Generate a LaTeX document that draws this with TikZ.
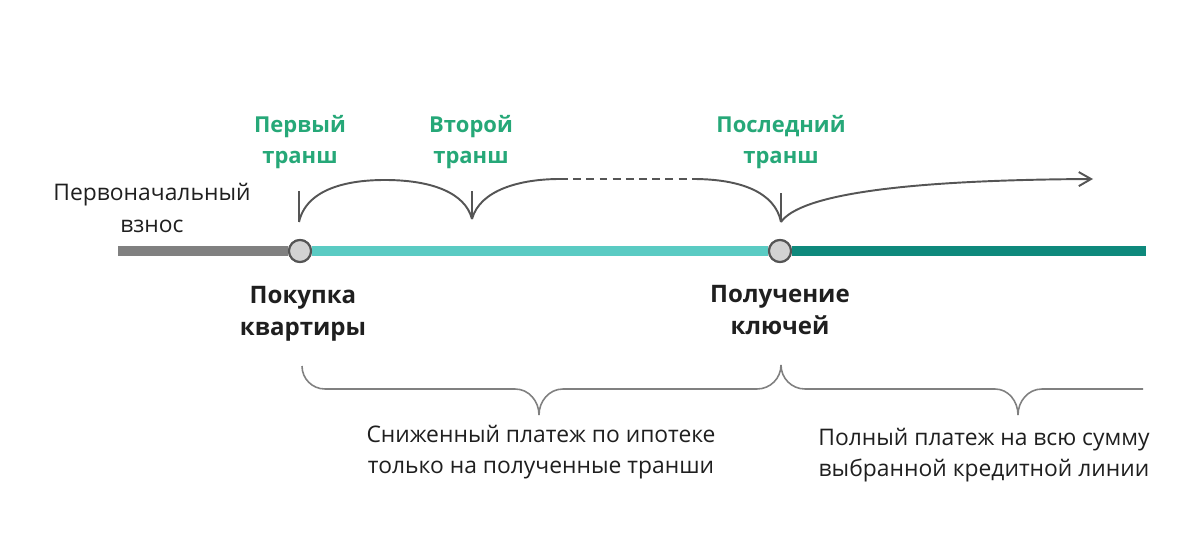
\documentclass[tikz,border=0pt]{standalone}
\usepackage{fontspec}
\setmainfont{Open Sans}
\usetikzlibrary{arrows.meta}
\definecolor{PayGray}{RGB}{128,128,128}
\definecolor{LightTeal}{RGB}{90,203,195}
\definecolor{DarkTeal}{RGB}{14,137,124}
\definecolor{TrancheGreen}{RGB}{38,168,120}
\definecolor{DotGray}{RGB}{210,210,210}
\definecolor{InkGray}{RGB}{85,85,85}
\tikzset{
  dot/.style={circle,draw=InkGray,fill=DotGray,line width=1.2pt,minimum size=22*0.02cm,inner sep=0pt},
  bar/.style={line width=10*0.02cm},
  txt/.style={font=\fontsize{13}{18}\selectfont,text=black!88,align=center,inner sep=0pt},
  bold/.style={txt,font=\fontsize{13.7}{18.5}\selectfont\bfseries},
  tranche/.style={txt,font=\fontsize{12.5}{18}\selectfont\bfseries,text=TrancheGreen},
  arc/.style={draw=InkGray,line width=1.1pt},
  brace/.style={draw=PayGray,line width=0.9pt},
}

\begin{document}
\begin{tikzpicture}[x=0.02cm,y=-0.02cm]
\useasboundingbox (0,0) rectangle (1200,554);
\coordinate (start) at (118,251);
\coordinate (finish) at (1146,251);
\node[dot] (buy) at (300,251) {};
\node[dot] (keys) at (780,251) {};
\draw[bar,PayGray] (start) -- (buy);
\draw[bar,LightTeal] (buy) -- (keys);
\draw[bar,DarkTeal] (keys) -- (finish);
\node[dot] at (buy) {};
\node[dot] at (keys) {};
% tranches
\coordinate (t1) at (299,222);
\coordinate (t2) at (472,219);
\coordinate (t3) at (781,222);
\coordinate (d1) at (560,179);
\coordinate (d2) at (693,179);
\coordinate (tip) at (1093,179);
\draw[arc] (299,191) -- (t1);
\draw[arc] (472,191) -- (t2);
\draw[arc] (781,193) -- (t3);
\draw[arc] (t1) .. controls (308,182) and (365,180) .. (385,180)
  .. controls (430,180) and (465,192) .. (t2);
\draw[arc] (t2) .. controls (480,190) and (520,179) .. (d1);
\draw[arc,dash pattern=on 4.5pt off 3pt] (d1) -- (d2);
\draw[arc] (d2) .. controls (740,179) and (775,192) .. (t3);
\draw[arc,-{Straight Barb[length=7pt,width=8pt]}] (t3) .. controls (800,195) and (900,180) .. (tip);
\node[tranche] (first) at (300,142) {Первый\\транш};
\node[tranche] (second) at (471,142) {Второй\\транш};
\node[tranche] (last) at (781,142) {Последний\\транш};
\node[txt] (down) at (152,208) {Первоначальный\\взнос};
\node[bold] (buylab) at (303,314) {Покупка\\квартиры};
\node[bold] (keylab) at (780,310) {Получение\\ключей};
% braces
\draw[brace] (302,366) to[out=-90,in=180] (325,389) -- (515,389)
  to[out=0,in=90] (539,415);
\draw[brace] (539,415) to[out=90,in=180] (563,389) -- (757,389)
  to[out=0,in=-90] (781,365);
\draw[brace] (781,365) to[out=-90,in=180] (805,389) -- (995,389)
  to[out=0,in=90] (1018,415);
\draw[brace] (1018,415) to[out=90,in=180] (1042,389) -- (1143,389);
\node[txt] (lower) at (541,452) {Сниженный платеж по ипотеке\\только на полученные транши};
\node[txt] (full) at (984,455) {Полный платеж на всю сумму\\выбранной кредитной линии};
\end{tikzpicture}
\end{document}
